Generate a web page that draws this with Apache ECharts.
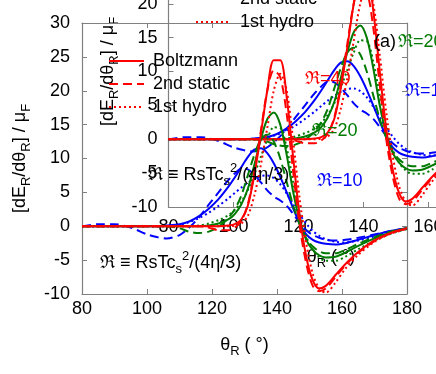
<!DOCTYPE html>
<html>
<head>
<meta charset="utf-8">
<script src="https://cdn.jsdelivr.net/npm/echarts@6/dist/echarts.min.js"></script>
<style>
  html, body { margin: 0; padding: 0; background: #fff; }
  #chart { width: 436px; height: 374px; }
</style>
</head>
<body>
<div id="chart"></div>
<script>
// scattering angle samples (deg)
var theta = [80, 85, 90, 95, 100, 103, 106, 110, 113, 116, 119, 122, 125, 127, 129, 131, 133, 135,
             137, 139, 141, 143, 145, 147, 149, 151, 153, 155, 158, 161, 165, 170, 175, 180];

// dE_R/dtheta_R / mu_F
var boltz40  = [0,0,0,0,0,0,0,0,0,0,0,0,0.1,0.3,1.0,3.0,7.5,13.5,20,24.5,24.5,19,10,1.5,-4.5,-8,-9.2,-8.8,-7.2,-5.6,-3.8,-2.1,-1.0,-0.3];
var static40 = [0,0,0,0,0,0,0,0,0,0,-0.2,-0.6,-0.6,-0.2,0.8,3.2,8,14,20,23,22,16.5,8,0,-5.5,-8.8,-9.6,-9.2,-7.5,-5.8,-3.9,-2.2,-1.0,-0.3];
var hydro40  = [0,0,0,0,0,0,0,0,0,0,0,0,0,0.1,0.4,1.5,4.5,9,14.5,20,22.5,20,12.5,4,-2.5,-7,-9.2,-9.8,-8.3,-6.3,-4.2,-2.3,-1.1,-0.4];
var boltz20  = [0,0,0,0,0,0,0,0,0,0,0.1,0.4,1.0,1.8,3.2,5.5,9,12.8,15.8,16.8,15,10.5,5,0.8,-2,-3.5,-4.3,-4.6,-4.5,-3.9,-2.9,-1.8,-0.9,-0.3];
var static20 = [0,0,0,0,0,0,0,-0.3,-0.8,-1.0,-0.8,-0.1,1.2,2.5,4.5,7.5,10.5,12.8,13.5,12.5,10,6.5,3,0.2,-1.8,-3.0,-3.7,-4.0,-4.0,-3.5,-2.6,-1.6,-0.8,-0.3];
var hydro20  = [0,0,0,0,0,0,0,0,0,0.1,0.4,0.9,1.6,2.4,3.6,5.3,7.6,10.2,12.8,14.6,14.5,11.5,6.5,2,-1.5,-3.5,-4.6,-5.1,-5.1,-4.5,-3.4,-2.1,-1.1,-0.4];
var boltz10  = [0,0,0,0,0,0,0.1,0.3,0.7,1.5,2.6,4.0,5.8,7.2,8.7,10.2,11.3,11.5,10.8,9.3,7.3,5,2.6,0.4,-1.2,-2.0,-2.4,-2.6,-2.7,-2.5,-2.0,-1.3,-0.7,-0.3];
var static10 = [0,0.3,0.3,-0.2,-1.2,-1.6,-1.8,-1.3,-0.2,1.3,3.2,5.0,6.8,7.8,8.5,8.4,7.6,6.5,5.3,4.4,3.8,3.0,1.8,0.5,-0.6,-1.3,-1.7,-2.0,-2.1,-2.0,-1.7,-1.2,-0.7,-0.3];
var hydro10  = [0,0,0,0,0,0,0,0.2,0.6,1.2,2.0,3.0,4.1,4.9,5.7,6.4,7.0,7.4,7.5,7.1,6.2,4.8,3.2,1.7,0.4,-0.7,-1.4,-1.9,-2.3,-2.4,-2.1,-1.5,-0.8,-0.4];

var legendNames = ['Boltzmann', '2nd static', '1st hydro'];
var xTicks = [80, 180, 20];
var yTicks = [-10, 30, 5];

var FONT = 'Liberation Sans, Arial, sans-serif';
var RED = '#ff0000', GREEN = '#007a00', BLUE = '#0000ff';
var DASH = [9, 5], DOT = [2, 3];

var chart = echarts.init(document.getElementById('chart'));

function curve(name, vals, color, type, idx) {
    return {
        name: name,
        type: 'line',
        xAxisIndex: idx,
        yAxisIndex: idx,
        data: theta.map(function (t, i) { return [t, vals[i]]; }),
        symbol: 'none',
        smooth: 0.3,
        silent: true,
        lineStyle: { color: color, width: 2, type: type },
        itemStyle: { color: color, opacity: 0 }
    };
}

function curveSet(idx) {
    return [
        curve('2nd static R10', static10, BLUE, DASH, idx),
        curve('1st hydro R10', hydro10, BLUE, DOT, idx),
        curve('Boltzmann R10', boltz10, BLUE, 'solid', idx),
        curve('2nd static R20', static20, GREEN, DASH, idx),
        curve('1st hydro R20', hydro20, GREEN, DOT, idx),
        curve('Boltzmann R20', boltz20, GREEN, 'solid', idx),
        curve(legendNames[1], static40, RED, DASH, idx),
        curve(legendNames[2], hydro40, RED, DOT, idx),
        curve(legendNames[0], boltz40, RED, 'solid', idx)
    ];
}

var richAxis = {
    n: { fontSize: 18, fontFamily: FONT, color: '#000', lineHeight: 26 },
    s: { fontSize: 13, fontFamily: FONT, color: '#000', verticalAlign: 'bottom' }
};

function xAx(grid, pos, labels, margin, gap) {
    return {
        type: 'value', gridIndex: grid, position: pos,
        min: xTicks[0], max: xTicks[1], interval: xTicks[2],
        name: labels ? '{n|θ}{s|R}{n| ( °)}' : '',
        nameLocation: 'middle', nameGap: gap,
        nameTextStyle: { rich: richAxis },
        axisLine: { show: true, onZero: false, lineStyle: { color: '#808080', width: 1.2 } },
        axisTick: { show: true, inside: true, length: 5, lineStyle: { color: '#808080' } },
        axisLabel: { show: labels, margin: margin, fontSize: 18, fontFamily: FONT, color: '#000' },
        splitLine: { show: false }
    };
}

function yAx(grid, pos, labels, margin, gap) {
    return {
        type: 'value', gridIndex: grid, position: pos,
        min: yTicks[0], max: yTicks[1], interval: yTicks[2],
        name: labels ? '{n|[dE}{s|R}{n|/dθ}{s|R}{n|] / μ}{s|F}' : '',
        nameLocation: 'middle', nameGap: gap, nameRotate: 90,
        nameTextStyle: { rich: richAxis },
        axisLine: { show: true, onZero: false, lineStyle: { color: '#808080', width: 1.2 } },
        axisTick: { show: true, inside: true, length: 5, lineStyle: { color: '#808080' } },
        axisLabel: { show: labels, margin: margin, fontSize: 18, fontFamily: FONT, color: '#000' },
        splitLine: { show: false }
    };
}

var richNote = {
    n: { fontSize: 18, fontFamily: FONT, fill: '#000', lineHeight: 26 },
    s: { fontSize: 13, fontFamily: FONT, fill: '#000', verticalAlign: 'bottom' },
    p: { fontSize: 13, fontFamily: FONT, fill: '#000', verticalAlign: 'top' }
};

function note(x, y, txt, color) {
    return {
        type: 'text', left: x, top: y, z: 100,
        style: { text: txt, fill: color, fontSize: 18, fontFamily: FONT }
    };
}

function formula(x, y) {
    return {
        type: 'text', left: x, top: y, z: 100,
        style: { text: '{n|ℜ ≡ RsTc}{s|s}{p|2}{n|/(4η/3)}', rich: richNote }
    };
}

function legendAt(x, y) {
    return {
        data: legendNames,
        left: x, top: y,
        padding: 0,
        orient: 'vertical',
        itemWidth: 35, itemHeight: 14, itemGap: 5,
        selectedMode: false,
        itemStyle: { opacity: 0 },
        textStyle: { fontSize: 18, fontFamily: FONT, color: '#000', padding: [0, 0, 0, 4] }
    };
}

chart.setOption({
    animation: false,
    backgroundColor: '#fff',
    grid: [
        { left: 82, top: 23, width: 325, height: 271, outerBoundsMode: 'none' },
        { left: 168.5, top: -64, width: 325, height: 271, outerBoundsMode: 'none' }
    ],
    xAxis: [xAx(0, 'bottom', true, 6, 38), xAx(1, 'bottom', true, 11, 37), xAx(0, 'top', false, 0, 0)],
    yAxis: [yAx(0, 'left', true, 12, 44), yAx(1, 'left', true, 11, 45), yAx(0, 'right', false, 0, 0)],
    legend: [legendAt(108, 52), legendAt(195, -33)],
    graphic: [
        formula(100, 250),
        formula(148, 162),
        note(305, 70, 'ℜ=40', RED),
        note(312, 122, 'ℜ=20', GREEN),
        note(317, 172, 'ℜ=10', BLUE),
        note(374, 33, '(a)', '#000'),
        note(398, 33, 'ℜ=20', GREEN),
        note(405, 82, 'ℜ=10', BLUE)
    ],
    series: curveSet(1).concat(curveSet(0))
});
</script>
</body>
</html>
